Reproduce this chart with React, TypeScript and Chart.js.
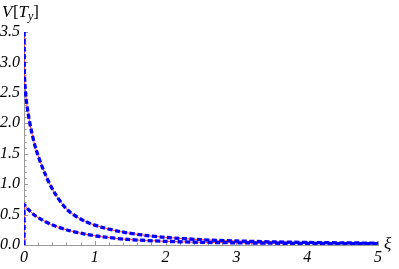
import React, { useEffect, useRef } from "react";
import { Chart, registerables } from "chart.js";
Chart.register(...registerables);

// Upper curve
const xiUpper = [0, 0.005, 0.015, 0.03, 0.056, 0.1, 0.17, 0.29, 0.43, 0.62, 0.86, 1.09, 1.36, 1.7, 2.0, 2.5, 3.0, 3.5, 4.0, 4.5, 5.0];
const vUpper = [4.0, 2.85, 2.6, 2.4, 2.18, 1.9, 1.57, 1.19, 0.86, 0.57, 0.39, 0.295, 0.22, 0.16, 0.125, 0.088, 0.066, 0.052, 0.042, 0.035, 0.03];

// Lower curve
const xiLower = [0, 0, 0.05, 0.15, 0.25, 0.39, 0.62, 0.86, 1.09, 1.47, 2.0, 2.5, 3.0, 3.5, 4.0, 4.5, 5.0];
const vLower = [0, 0.66, 0.597, 0.489, 0.417, 0.334, 0.243, 0.18, 0.137, 0.091, 0.06, 0.044, 0.036, 0.03, 0.026, 0.023, 0.021];

const xMajorTicks = [0, 1, 2, 3, 4, 5];
const yMajorTicks = [0, 0.5, 1.0, 1.5, 2.0, 2.5, 3.0, 3.5];
const xMinorStep = 0.2;
const yMinorStep = 0.1;

const xTitle = "ξ";
const yTitleParts = [
  { t: "V", italic: true, sub: false },
  { t: "[", italic: false, sub: false },
  { t: "T", italic: true, sub: false },
  { t: "y", italic: true, sub: true },
  { t: "]", italic: false, sub: false },
];

const SERIF = "'Liberation Serif', 'Times New Roman', serif";
const AXIS_GRAY = "#9a9a9a";

const toPts = (xs: number[], ys: number[]) => xs.map((x, i) => ({ x, y: ys[i] }));

const ticksPlugin = {
  id: "inwardTicks",
  beforeDatasetsDraw(chart: any) {
    const { ctx, chartArea, scales } = chart;
    const xs = scales.x;
    const ys = scales.y;
    ctx.save();
    ctx.strokeStyle = AXIS_GRAY;
    ctx.lineWidth = 1;
    ctx.beginPath();
    const xMin = xs.min, xMax = xs.max, yMin = ys.min, yMax = ys.max;
    for (let v = xMin; v <= xMax + 1e-9; v += xMinorStep) {
      const major = xMajorTicks.some((m) => Math.abs(m - v) < 1e-6);
      const px = Math.round(xs.getPixelForValue(v)) + 0.5;
      const len = major ? 4 : 2.5;
      ctx.moveTo(px, chartArea.bottom);
      ctx.lineTo(px, chartArea.bottom - len);
    }
    for (let v = yMin; v <= yMax + 1e-9; v += yMinorStep) {
      const major = yMajorTicks.some((m) => Math.abs(m - v) < 1e-6);
      const py = Math.round(ys.getPixelForValue(v)) + 0.5;
      const len = major ? 4 : 2.5;
      ctx.moveTo(chartArea.left, py);
      ctx.lineTo(chartArea.left + len, py);
    }
    ctx.stroke();
    ctx.restore();
  },
  afterDraw(chart: any) {
    const { ctx, chartArea } = chart;
    ctx.save();
    ctx.fillStyle = "#000";
    ctx.textBaseline = "alphabetic";
    ctx.textAlign = "left";
    let x = 2;
    const base = 17;
    for (const p of yTitleParts) {
      const size = p.sub ? 12 : 17;
      ctx.font = `${p.italic ? "italic " : ""}${size}px ${SERIF}`;
      ctx.fillText(p.t, x, p.sub ? base + 3 : base);
      x += ctx.measureText(p.t).width + (p.t === "V" ? 0.5 : 0);
    }
    ctx.font = `italic 17px ${SERIF}`;
    ctx.fillText(xTitle, chartArea.right + 6, chartArea.bottom + 4);
    ctx.restore();
  },
};

export default function App() {
  const ref = useRef<HTMLCanvasElement | null>(null);
  useEffect(() => {
    document.body.style.margin = "0";
    if (!ref.current) return;
    const upper = toPts(xiUpper, vUpper);
    const lower = toPts(xiLower, vLower);
    const red = { borderColor: "#ff3030", borderWidth: 1, pointRadius: 0, tension: 0.3, fill: false, order: 2 };
    const blue = { borderColor: "#0000ff", borderWidth: 3.3, borderDash: [5, 2.5], pointRadius: 0, tension: 0.3, fill: false, order: 1 };
    const chart = new Chart(ref.current, {
      type: "line",
      data: {
        datasets: [
          { ...red, data: upper },
          { ...blue, data: upper },
          { ...red, data: lower },
          { ...blue, data: lower },
        ] as any,
      },
      options: {
        animation: false,
        responsive: false,
        maintainAspectRatio: false,
        parsing: false as any,
        layout: { padding: { top: 32, right: 21, bottom: 0, left: 0 } },
        plugins: { legend: { display: false }, tooltip: { enabled: false } },
        scales: {
          x: {
            type: "linear",
            min: 0,
            max: 5,
            afterFit: (s: any) => { s.height = 24; },
            border: { color: AXIS_GRAY, width: 1 },
            grid: { drawOnChartArea: false, drawTicks: false },
            ticks: {
              stepSize: 1,
              padding: 3,
              color: "#000",
              font: { family: SERIF, style: "italic", size: 16 },
              maxRotation: 0,
              callback: (v: any) => String(v),
            },
          },
          y: {
            type: "linear",
            min: 0,
            max: 3.5,
            afterFit: (s: any) => { s.width = 24; },
            border: { color: AXIS_GRAY, width: 1 },
            grid: { drawOnChartArea: false, drawTicks: false },
            ticks: {
              stepSize: 0.5,
              padding: 4,
              color: "#000",
              font: { family: SERIF, style: "italic", size: 16 },
              callback: (v: any) => Number(v).toFixed(1),
            },
          },
        },
      },
      plugins: [ticksPlugin],
    });
    return () => chart.destroy();
  }, []);
  return (
    <div style={{ width: 399, height: 269 }}>
      <canvas ref={ref} width={399} height={269} />
    </div>
  );
}
